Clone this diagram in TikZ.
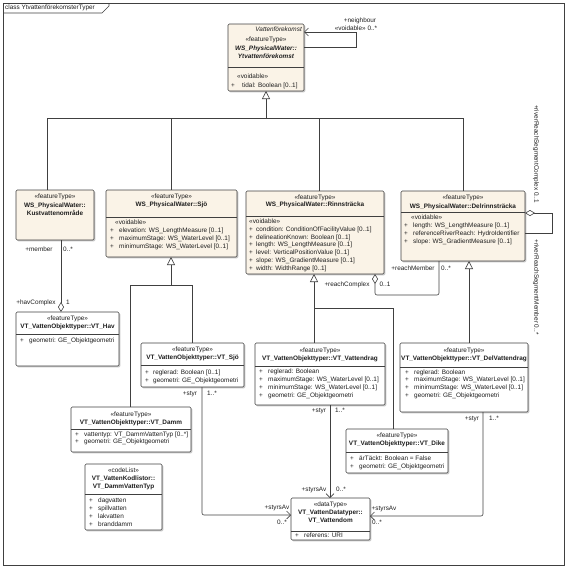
\documentclass[tikz,border=0pt]{standalone}
\usepackage{fontspec}
\setmainfont{Liberation Sans}
\usetikzlibrary{arrows.meta,shadows}
\definecolor{beige}{RGB}{250,243,231}
\definecolor{lnc}{RGB}{64,64,64}
\definecolor{txc}{RGB}{30,30,30}
\begin{document}
\begin{tikzpicture}[x=1pt,y=-1pt,
  font=\fontsize{6.4}{7.6}\selectfont,
  cls/.style={draw=lnc, line width=0.6pt, rounded corners=1.2pt, fill=white, inner sep=0pt, outer sep=0pt, anchor=north west,
    drop shadow={shadow xshift=1.3pt, shadow yshift=-1.3pt, fill=black!45, opacity=0.5}},
  ws/.style={cls, fill=beige},
  tx/.style={inner sep=0pt, text=txc, text height=4.7pt, text depth=1.3pt},
  ctr/.style={tx, anchor=center},
  lft/.style={tx, anchor=west},
  rgt/.style={tx, anchor=east},
  bld/.style={ctr, font=\fontsize{6.4}{7.6}\selectfont\bfseries},
  conn/.style={draw=lnc, line width=0.6pt},
  gentip/.style={-{Triangle[length=8pt,width=8pt,fill=white,line width=0.6pt]}},
  navtip/.style={-{Straight Barb[length=4pt,width=8pt,line width=0.6pt]}},
  agtip/.style={{Diamond[length=10pt,width=6pt,fill=white,line width=0.6pt]}-}
]
\useasboundingbox (0,0) rectangle (567,568);
% frame
\draw[conn] (3,3) rectangle (564,565);
\draw[conn] (3,13) -- (102,13) -- (109,6) -- (109,3);
\node[lft] (title) at (5,8) {class YtvattenförekomsterTyper};

% ---------- class boxes ----------
\node[ws, minimum width=76pt, minimum height=67pt] (vf) at (228,24) {};
\node[ws, minimum width=78pt, minimum height=50pt] (kust) at (16,190) {};
\node[ws, minimum width=131pt, minimum height=67pt] (sjo) at (106,190) {};
\node[ws, minimum width=138pt, minimum height=83pt] (rinn) at (246,191) {};
\node[ws, minimum width=124pt, minimum height=70pt] (del) at (401,191) {};
\node[cls, minimum width=103pt, minimum height=54pt] (hav) at (16,312) {};
\node[cls, minimum width=103pt, minimum height=44pt] (vtsjo) at (141,343) {};
\node[cls, minimum width=130pt, minimum height=62pt] (vdrag) at (255,343) {};
\node[cls, minimum width=128pt, minimum height=69pt] (delvd) at (400,343) {};
\node[cls, minimum width=120pt, minimum height=45pt] (damm) at (71,407) {};
\node[cls, minimum width=77pt, minimum height=66pt] (kod) at (85,464) {};
\node[cls, minimum width=102pt, minimum height=44pt] (dike) at (346,429) {};
\node[cls, minimum width=79pt, minimum height=42pt] (vdom) at (291,498) {};

% dividers
\draw[conn] (vf.west |- 0,67) -- (vf.east |- 0,67);
\draw[conn] (sjo.west |- 0,217) -- (sjo.east |- 0,217);
\draw[conn] (rinn.west |- 0,216) -- (rinn.east |- 0,216);
\draw[conn] (del.west |- 0,212) -- (del.east |- 0,212);
\draw[conn] (hav.west |- 0,334) -- (hav.east |- 0,334);
\draw[conn] (vtsjo.west |- 0,365) -- (vtsjo.east |- 0,365);
\draw[conn] (vdrag.west |- 0,366) -- (vdrag.east |- 0,366);
\draw[conn] (delvd.west |- 0,367) -- (delvd.east |- 0,367);
\draw[conn] (damm.west |- 0,429) -- (damm.east |- 0,429);
\draw[conn] (kod.west |- 0,494) -- (kod.east |- 0,494);
\draw[conn] (dike.west |- 0,452) -- (dike.east |- 0,452);
\draw[conn] (vdom.west |- 0,531) -- (vdom.east |- 0,531);

% ---------- texts ----------
% Vattenforekomst
\node[rgt, font=\fontsize{6.4}{7.6}\selectfont\itshape] (vf1) at (302,29.5) {Vattenförekomst};
\node[ctr] (vf2) at (266,40) {«featureType»};
\node[bld, font=\fontsize{6.4}{7.6}\selectfont\bfseries\itshape] (vf3) at (266,48.5) {WS\_PhysicalWater::};
\node[bld, font=\fontsize{6.4}{7.6}\selectfont\bfseries\itshape] (vf4) at (266,57) {Ytvattenförekomst};
\node[lft] (vf5) at (237,77) {«voidable»};
\node[lft] (vf6) at (231,86) {+};
\node[lft] (vf7) at (242,86) {tidal: Boolean [0..1]};
% Kustvattenomrade
\node[ctr] (ku1) at (55,197) {«featureType»};
\node[bld] (ku2) at (55,205.5) {WS\_PhysicalWater::};
\node[bld] (ku3) at (55,213.5) {Kustvattenområde};
% Sjo
\node[ctr] (sj1) at (171.5,197) {«featureType»};
\node[bld] (sj2) at (171.5,205) {WS\_PhysicalWater::Sjö};
\node[lft] (sj3) at (115,223) {«voidable»};
\node[lft] (sj4) at (110,230.5) {+};
\node[lft] (sj5) at (119,230.5) {elevation: WS\_LengthMeasure [0..1]};
\node[lft] (sj6) at (110,238.3) {+};
\node[lft] (sj7) at (119,238.3) {maximumStage: WS\_WaterLevel [0..1]};
\node[lft] (sj8) at (110,246.5) {+};
\node[lft] (sj9) at (119,246.5) {minimumStage: WS\_WaterLevel [0..1]};
% Rinnstracka
\node[ctr] (ri1) at (315,197.5) {«featureType»};
\node[bld] (ri2) at (315,205) {WS\_PhysicalWater::Rinnsträcka};
\node[lft] (ri3) at (249,222) {«voidable»};
\node[lft] (rp1) at (249,230) {+};
\node[lft] (ra1) at (256,230) {condition: ConditionOfFacilityValue [0..1]};
\node[lft] (rp2) at (249,237.5) {+};
\node[lft] (ra2) at (256,237.5) {delineationKnown: Boolean [0..1]};
\node[lft] (rp3) at (249,245.2) {+};
\node[lft] (ra3) at (256,245.2) {length: WS\_LengthMeasure [0..1]};
\node[lft] (rp4) at (249,252.9) {+};
\node[lft] (ra4) at (256,252.9) {level: VerticalPositionValue [0..1]};
\node[lft] (rp5) at (249,260.6) {+};
\node[lft] (ra5) at (256,260.6) {slope: WS\_GradientMeasure [0..1]};
\node[lft] (rp6) at (249,268.3) {+};
\node[lft] (ra6) at (256,268.3) {width: WidthRange [0..1]};
% Delrinnstracka
\node[ctr] (de1) at (463,198) {«featureType»};
\node[bld] (de2) at (463,206.5) {WS\_PhysicalWater::Delrinnsträcka};
\node[lft] (de3) at (411,218) {«voidable»};
\node[lft] (dp1) at (404,225.3) {+};
\node[lft] (da1) at (413,225.3) {length: WS\_LengthMeasure [0..1]};
\node[lft] (dp2) at (404,233.3) {+};
\node[lft] (da2) at (413,233.3) {referenceRiverReach: HydroIdentifier};
\node[lft] (dp3) at (404,241.5) {+};
\node[lft] (da3) at (413,241.5) {slope: WS\_GradientMeasure [0..1]};
% VT_Hav
\node[ctr] (ha1) at (67.5,319) {«featureType»};
\node[bld] (ha2) at (67.5,327) {VT\_VattenObjekttyper::VT\_Hav};
\node[lft] (hp1) at (20,341) {+};
\node[lft] (ha3) at (29,341) {geometri: GE\_Objektgeometri};
% VT_Sjo
\node[ctr] (vs1) at (192.5,350) {«featureType»};
\node[bld] (vs2) at (192.5,358) {VT\_VattenObjekttyper::VT\_Sjö};
\node[lft] (vp1) at (145,373) {+};
\node[lft] (vs3) at (153,373) {reglerad: Boolean [0..1]};
\node[lft] (vp2) at (145,380.5) {+};
\node[lft] (vs4) at (153,380.5) {geometri: GE\_Objektgeometri};
% VT_Vattendrag
\node[ctr] (vd1) at (320,351) {«featureType»};
\node[bld] (vd2) at (320,359) {VT\_VattenObjekttyper::VT\_Vattendrag};
\node[lft] (wp1) at (259,372) {+};
\node[lft] (vd3) at (268,372) {reglerad: Boolean};
\node[lft] (wp2) at (259,379.6) {+};
\node[lft] (vd4) at (268,379.6) {maximumStage: WS\_WaterLevel [0..1]};
\node[lft] (wp3) at (259,387.4) {+};
\node[lft] (vd5) at (268,387.4) {minimumStage: WS\_WaterLevel [0..1]};
\node[lft] (wp4) at (259,395.5) {+};
\node[lft] (vd6) at (268,395.5) {geometri: GE\_Objektgeometri};
% VT_DelVattendrag
\node[ctr] (dv1) at (464,351) {«featureType»};
\node[bld] (dv2) at (464,359) {VT\_VattenObjekttyper::VT\_DelVattendrag};
\node[lft] (xp1) at (405,372.5) {+};
\node[lft] (dv3) at (414,372.5) {reglerad: Boolean};
\node[lft] (xp2) at (405,380.2) {+};
\node[lft] (dv4) at (414,380.2) {maximumStage: WS\_WaterLevel [0..1]};
\node[lft] (xp3) at (405,388) {+};
\node[lft] (dv5) at (414,388) {minimumStage: WS\_WaterLevel [0..1]};
\node[lft] (xp4) at (405,395.7) {+};
\node[lft] (dv6) at (414,395.7) {geometri: GE\_Objektgeometri};
% VT_Damm
\node[ctr] (dm1) at (131,415) {«featureType»};
\node[bld] (dm2) at (131,423) {VT\_VattenObjekttyper::VT\_Damm};
\node[lft] (mp1) at (75,435) {+};
\node[lft] (dm3) at (84,435) {vattentyp: VT\_DammVattenTyp [0..*]};
\node[lft] (mp2) at (75,442) {+};
\node[lft] (dm4) at (84,442) {geometri: GE\_Objektgeometri};
% codeList
\node[ctr] (kl1) at (123.5,471) {«codeList»};
\node[bld] (kl2) at (123.5,479) {VT\_VattenKodlistor::};
\node[bld] (kl3) at (123.5,487) {VT\_DammVattenTyp};
\node[lft] (kp1) at (89,501) {+};
\node[lft] (kl4) at (98,501) {dagvatten};
\node[lft] (kp2) at (89,509) {+};
\node[lft] (kl5) at (98,509) {spillvatten};
\node[lft] (kp3) at (89,517) {+};
\node[lft] (kl6) at (98,517) {lakvatten};
\node[lft] (kp4) at (89,525) {+};
\node[lft] (kl7) at (98,525) {branddamm};
% VT_Dike
\node[ctr] (dk1) at (397,436) {«featureType»};
\node[bld] (dk2) at (397,444) {VT\_VattenObjekttyper::VT\_Dike};
\node[lft] (ep1) at (350,458.5) {+};
\node[lft] (dk3) at (359,458.5) {ärTäckt: Boolean = False};
\node[lft] (ep2) at (350,466.5) {+};
\node[lft] (dk4) at (359,466.5) {geometri: GE\_Objektgeometri};
% VT_Vattendom
\node[ctr] (vo1) at (330.5,505) {«dataType»};
\node[bld] (vo2) at (330.5,513) {VT\_VattenDatatyper::};
\node[bld] (vo3) at (330.5,521) {VT\_Vattendom};
\node[lft] (op1) at (295,535.5) {+};
\node[lft] (vo4) at (304,535.5) {referens: URI};

% ---------- connectors ----------
% neighbour self association
\coordinate (nb1) at (356,32);
\coordinate (nb2) at (356,47);
\draw[conn, {Straight Barb[length=4pt,width=8pt,line width=0.6pt]}-] (vf.east |- nb1) -- (nb1) -- (nb2) -- (vf.east |- nb2);
\node[ctr] (nbl1) at (360,21) {+neighbour};
\node[ctr] (nbl2) at (356,28.5) {«voidable» 0..*};

% top generalization tree
\coordinate (busV) at (266,118);
\coordinate (busA) at (47,118);
\coordinate (busB) at (171,118);
\coordinate (busC) at (319,118);
\coordinate (busD) at (463,118);
\draw[conn] (busA) -- (busD);
\draw[conn, gentip] (busV) -- (vf.south -| busV);
\draw[conn] (busA) -- (kust.north -| busA);
\draw[conn] (busB) -- (sjo.north -| busB);
\draw[conn] (busC) -- (rinn.north -| busC);
\draw[conn] (busD) -- (del.north -| busD);

% Sjo generalization
\coordinate (sg) at (171,285);
\coordinate (sgL) at (130,285);
\coordinate (sgR) at (192,285);
\draw[conn, gentip] (sg) -- (sjo.south -| sg);
\draw[conn] (sgL) -- (sgR);
\draw[conn] (sgL) -- (damm.north -| sgL);
\draw[conn] (sgR) -- (vtsjo.north -| sgR);

% Rinnstracka generalization
\coordinate (rg) at (314,308);
\coordinate (rgR) at (393,308);
\draw[conn, gentip] (rg) -- (rinn.south -| rg);
\draw[conn] (rg) -- (rgR) -- (dike.north -| rgR);
\draw[conn] (rg) -- (vdrag.north -| rg);

% Delrinnstracka generalization
\coordinate (dg) at (469,300);
\draw[conn, gentip] (delvd.north -| dg) -- (del.south -| dg);

% member / havComplex
\coordinate (hm) at (61,300);
\draw[conn, agtip] (hav.north -| hm) -- (kust.south -| hm);
\node[ctr] (hml1) at (39,250) {+member};
\node[ctr] (hml2) at (68,250) {0..*};
\node[ctr] (hml3) at (36,303) {+havComplex};
\node[ctr] (hml4) at (68,303) {1};

% reachComplex / reachMember
\coordinate (rc1) at (375,295);
\coordinate (rc2) at (439,295);
\draw[conn, agtip, rounded corners=2pt] (rinn.south -| rc1) -- (rc1) -- (rc2) -- (del.south -| rc2);
\node[ctr] (rcl1) at (347,285) {+reachComplex};
\node[ctr] (rcl2) at (385,285) {0..1};
\node[ctr] (rcl3) at (413,269) {+reachMember};
\node[ctr] (rcl4) at (446,269) {0..*};

% riverReachSegment self aggregation
\coordinate (rs1) at (552,213);
\coordinate (rs2) at (552,233);
\draw[conn, agtip] (del.east |- rs1) -- (rs1) -- (rs2) -- (del.east |- rs2);
\node[ctr, rotate=-90] (rsl1) at (536,154) {+riverReachSegmentComplex 0..1};
\node[ctr, rotate=-90] (rsl2) at (536,287) {+riverReachSegmentMember 0..*};

% styr / styrsAv
\coordinate (st1) at (202,515);
\draw[conn, navtip, rounded corners=2pt] (vtsjo.south -| st1) -- (st1) -- (vdom.west |- st1);
\node[ctr] (s1a) at (190,394) {+styr};
\node[ctr] (s1b) at (212,394) {1..*};
\node[ctr] (s1c) at (277,508) {+styrsAv};
\node[ctr] (s1d) at (282,523) {0..*};

\coordinate (st2) at (330,450);
\draw[conn, navtip] (vdrag.south -| st2) -- (vdom.north -| st2);
\node[ctr] (s2a) at (319,411) {+styr};
\node[ctr] (s2b) at (340,411) {1..*};
\node[ctr] (s2c) at (314,490) {+styrsAv};
\node[ctr] (s2d) at (341,490) {0..*};

\coordinate (st3) at (483,516);
\draw[conn, navtip, rounded corners=2pt] (delvd.south -| st3) -- (st3) -- (vdom.east |- st3);
\node[ctr] (s3a) at (472,419) {+styr};
\node[ctr] (s3b) at (494,419) {1..*};
\node[ctr] (s3c) at (384,509) {+styrsAv};
\node[ctr] (s3d) at (377,523) {0..*};
\end{tikzpicture}
\end{document}
